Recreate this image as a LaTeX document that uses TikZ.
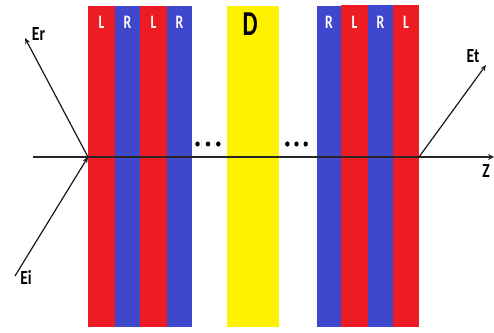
\documentclass[tikz,border=0pt]{standalone}
\usepackage{fontspec}
\setmainfont{Carlito}
\usetikzlibrary{arrows.meta}
\definecolor{lr}{HTML}{ED1C24}
\definecolor{lb}{HTML}{3F48CC}
\definecolor{ly}{HTML}{FFF200}
\begin{document}
\begin{tikzpicture}[x=1pt,y=-1pt,
  lay/.style={white,font=\bfseries\fontsize{19}{19}\selectfont,xscale=0.72,inner sep=0pt},
  lab/.style={black,font=\bfseries\fontsize{20}{20}\selectfont,xscale=0.78,inner sep=0pt},
  ray/.style={line width=1.2pt,draw=black!90,-{Stealth[length=6pt,width=5pt]}},
  dot/.style={fill=black,draw=none}]
\useasboundingbox (0,0) rectangle (494,332);
% left stack
\fill[lr] (88,6) rectangle (115,327);
\fill[lb] (115,6) rectangle (140,327);
\fill[lr] (140,6) rectangle (167,327);
\fill[lb] (167,6) rectangle (192,327);
% dielectric
\fill[ly] (227,6) rectangle (279,327);
% right stack
\fill[lb] (317,6) rectangle (341,327);
\fill[lr] (341,5) rectangle (368,327);
\fill[lb] (368,5) rectangle (393,327);
\fill[lr] (393,5) rectangle (419,327);
% layer labels
\node[lay] (l1) at (101.5,22.5) {L};
\node[lay] (r1) at (127.5,22.5) {R};
\node[lay] (l2) at (153.5,22.5) {L};
\node[lay] (r2) at (179.5,22.5) {R};
\node[lay] (r3) at (329,22.5) {R};
\node[lay] (l3) at (354.5,22.5) {L};
\node[lay] (r4) at (380.5,22.5) {R};
\node[lay] (l4) at (406,22.5) {L};
\node[black,font=\bfseries\fontsize{35}{35}\selectfont,xscale=0.68,inner sep=0pt] (d) at (250,24) {D};
% dots
\foreach \x in {197.5,208,218.3} \fill (\x,144) ellipse (2.2 and 2.6);
\foreach \x in {287.3,296.5,305.7} \fill (\x,144) ellipse (2.2 and 2.6);
% axis
\coordinate (a0) at (33,157);
\coordinate (a1) at (494,157);
\draw[line width=1.6pt,black!85,-{Stealth[length=6pt,width=6pt]}] (a0) -- (a1);
\node[lab] (z) at (486,171) {Z};
% rays
\coordinate (hl) at (88,157);
\coordinate (hr) at (419,157);
\coordinate (ei) at (15,276);
\coordinate (er) at (25,38);
\coordinate (et) at (486,65);
\draw[ray] (ei) -- (hl);
\draw[ray] (hl) -- (er);
\draw[ray] (hr) -- (et);
\node[lab] (eilab) at (26,277) {Ei};
\node[lab] (erlab) at (38.5,34) {Er};
\node[lab] (etlab) at (473,56) {Et};
\end{tikzpicture}
\end{document}
